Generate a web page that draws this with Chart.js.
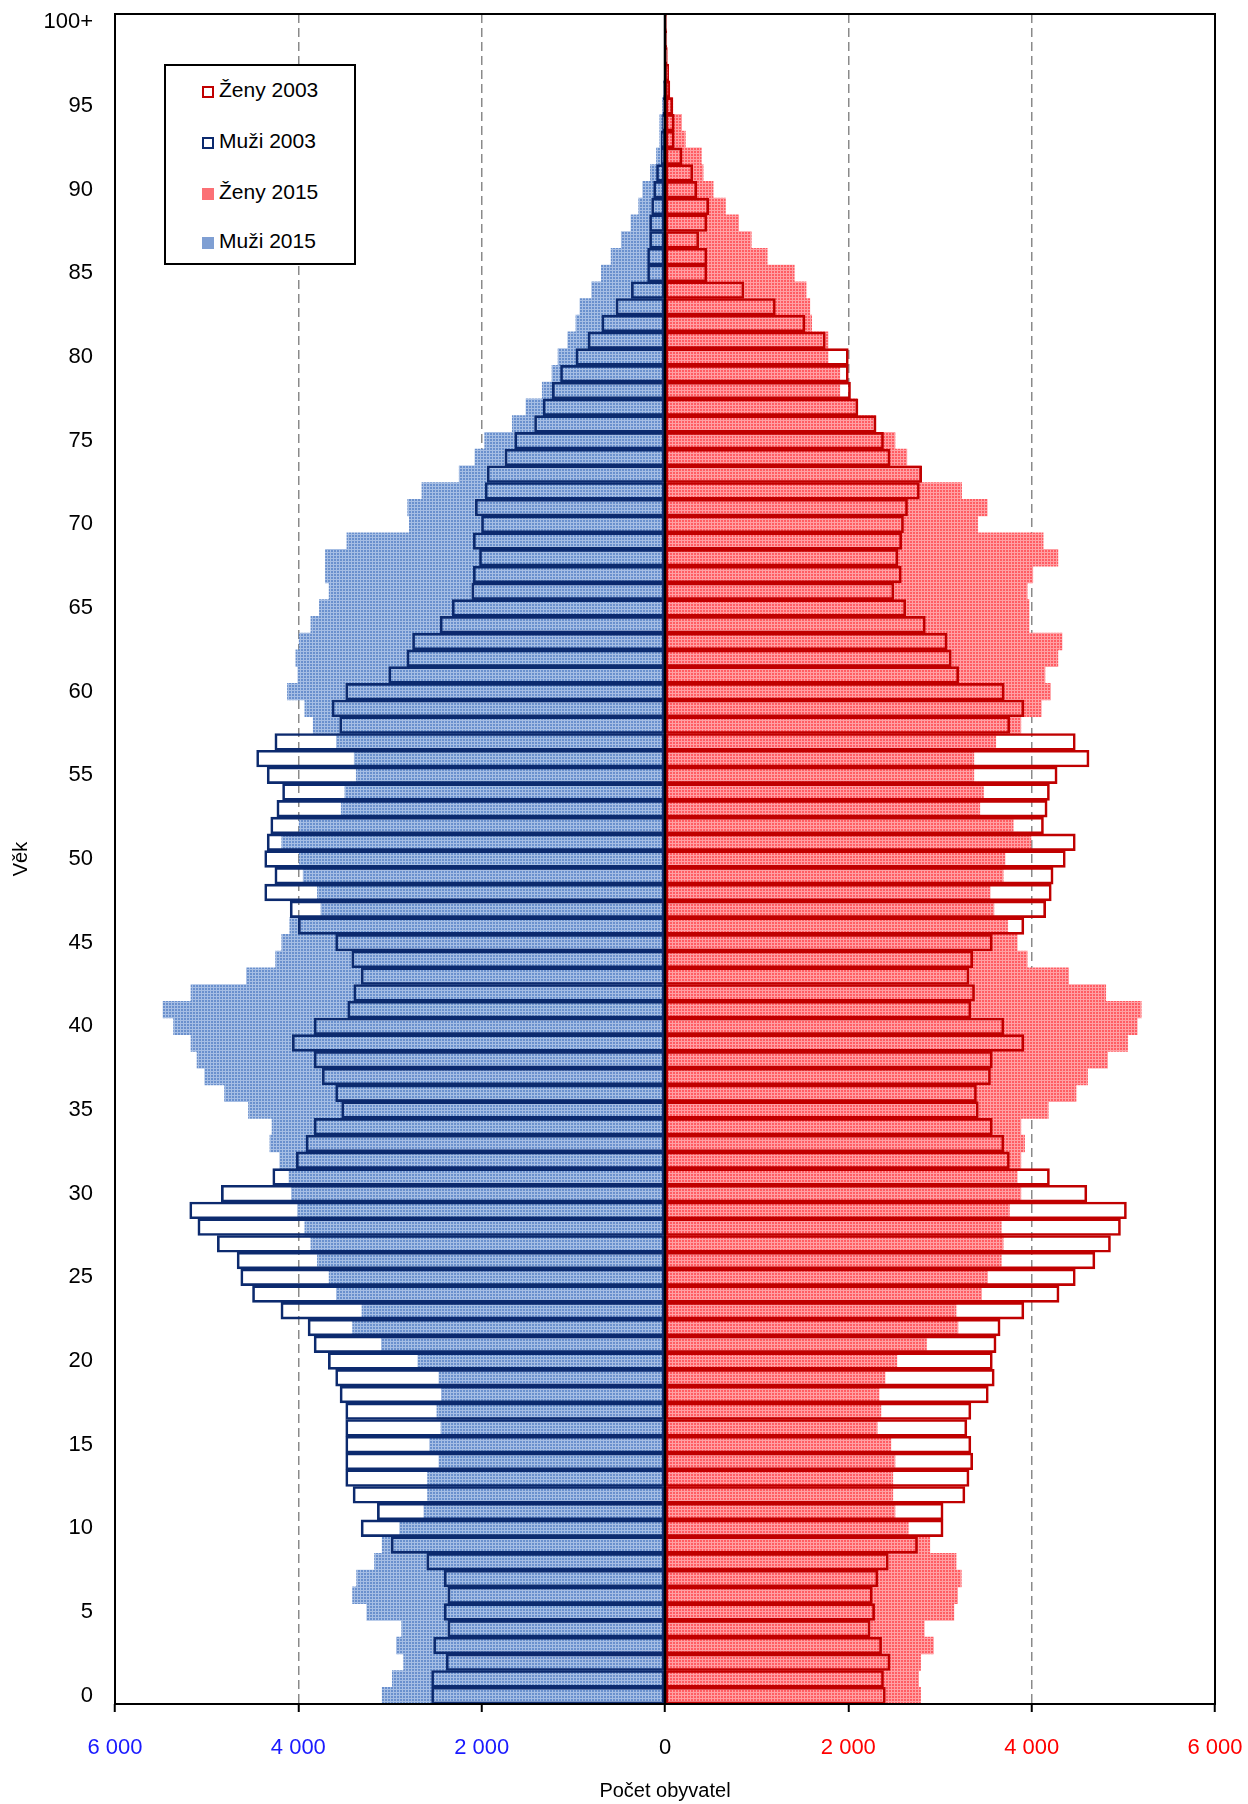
<!DOCTYPE html>
<html>
<head>
<meta charset="utf-8">
<script src="https://cdn.jsdelivr.net/npm/chart.js@4.4.1/dist/chart.umd.min.js"></script>
<style>
  body { margin: 0; background: #fff; }
  #wrap { position: relative; width: 1248px; height: 1804px; }
  #legend {
    position: absolute; left: 164px; top: 64px; width: 188px; height: 197px;
    border: 2px solid #000; background: #fff;
    font-family: "Liberation Sans", Arial, sans-serif; font-size: 21px; color: #000;
  }
  .item { position: absolute; left: 36px; height: 24px; line-height: 24px; white-space: nowrap; }
  .mark { display: inline-block; width: 12px; height: 12px; box-sizing: border-box; margin-right: 5px; vertical-align: -1px; }
</style>
</head>
<body>
<div id="wrap">
  <canvas id="pyramid"></canvas>
  <div id="legend">
    <div class="item" style="top:12px"><span class="mark" style="border:2px solid #c00000"></span>Ženy 2003</div>
    <div class="item" style="top:63px"><span class="mark" style="border:2px solid #0c2a6e"></span>Muži 2003</div>
    <div class="item" style="top:114px"><span class="mark" style="background:#fb7075"></span>Ženy 2015</div>
    <div class="item" style="top:163px"><span class="mark" style="background:#7f9fd3"></span>Muži 2015</div>
  </div>
</div>
<script>
// Ages 0..100 (100 = 100+)
let ages = [];
for (let i = 0; i <= 100; i++) ages.push(i === 100 ? '100+' : String(i));

// Men 2015 (index = age)
let men2015 = [3085,2975,2851,2930,2873,3253,3408,3364,3169,3085,
  2895,2630,2590,2590,2466,2568,2444,2488,2440,2466,
  2696,3094,3408,3306,3585,3664,3792,3863,3929,4009,
  4075,4102,4203,4310,4287,4544,4805,5021,5105,5171,
  5361,5476,5171,4566,4248,4181,4093,3753,3792,3947,
  3991,4181,3991,3532,3492,3368,3390,3585,3837,3929,
  4119,4005,4027,3991,3863,3770,3664,3704,3704,3470,
  2789,2807,2652,2245,2073,1967,1666,1516,1339,1233,
  1167,1061,972,928,800,694,588,477,371,287,
  243,159,93,57,57,27,15,8,5,3,
  3];

// Men 2003
let men2003 = [2546,2546,2387,2524,2369,2409,2369,2409,2599,2988,
  3315,3138,3403,3483,3483,3483,3483,3483,3545,3593,
  3673,3828,3894,4190,4500,4628,4668,4884,5096,5185,
  4840,4279,4022,3916,3828,3527,3593,3739,3828,4066,
  3828,3461,3395,3315,3417,3593,4000,4089,4367,4256,
  4367,4340,4301,4234,4172,4340,4455,4256,3549,3633,
  3483,3014,2816,2754,2453,2321,2108,2091,2024,2091,
  2002,2069,1962,1940,1746,1640,1423,1330,1229,1140,
  972,840,690,535,367,190,190,168,168,146,
  124,93,40,40,27,20,15,8,5,3,
  2];

// Women 2015
let women2015 = [2788,2767,2788,2929,2828,3151,3192,3232,3175,2889,
  2654,2509,2485,2485,2509,2464,2315,2355,2335,2400,
  2529,2852,3196,3175,3454,3519,3668,3689,3668,3757,
  3882,3842,3882,3923,3882,4181,4484,4610,4828,5046,
  5151,5195,4808,4404,3951,3842,3737,3588,3547,3689,
  3709,3992,3798,3434,3474,3369,3369,3608,3882,4105,
  4206,4145,4286,4331,3971,3971,3951,4012,4286,4125,
  3410,3515,3236,2792,2638,2509,2295,2093,1907,1907,
  1778,1778,1600,1580,1539,1410,1115,941,804,659,
  525,416,396,222,182,85,45,30,20,15,
  15];

// Women 2003
let women2003 = [2404,2384,2456,2363,2238,2287,2262,2323,2436,2755,
  3034,3034,3272,3317,3357,3337,3293,3337,3527,3592,
  3571,3612,3656,3915,4299,4476,4690,4860,4969,5034,
  4602,4194,3757,3697,3571,3418,3398,3551,3571,3915,
  3697,3337,3377,3317,3357,3571,3915,4153,4214,4234,
  4367,4476,4129,4169,4194,4278,4626,4476,3761,3915,
  3701,3204,3123,3078,2840,2626,2497,2578,2541,2582,
  2602,2646,2775,2800,2456,2384,2303,2105,2024,2000,
  2000,1749,1527,1204,861,457,457,368,457,477,
  347,303,186,101,101,85,53,40,25,20,
  15];

// x axis ticks
let xMin = -6000, xMax = 6000, xStep = 2000;

let canvas = document.getElementById('pyramid');
let ctx = canvas.getContext('2d');

// small grid texture like the Excel fill
function makePattern(base, light) {
    let c = document.createElement('canvas');
    c.width = 3; c.height = 3;
    let g = c.getContext('2d');
    g.fillStyle = base;
    g.fillRect(0, 0, 3, 3);
    g.fillStyle = light;
    g.fillRect(0, 0, 3, 1);
    g.fillRect(0, 0, 1, 3);
    return ctx.createPattern(c, 'repeat');
}
let bluePattern = makePattern('#6a90cd', '#a6bee4');
let redPattern = makePattern('#ff5c63', '#ffa0a4');

function fmt(v) {
    return Math.abs(v).toLocaleString('en-US').replace(/,/g, '\u00a0');
}

// frame around plot and the black zero line on top of bars
const framePlugin = {
    id: 'frame',
    afterDatasetsDraw(chart) {
        let a = chart.chartArea;
        let x0 = chart.scales.x.getPixelForValue(0);
        let c = chart.ctx;
        c.save();
        c.strokeStyle = '#000';
        c.lineWidth = 2.5;
        c.beginPath();
        c.moveTo(x0, a.top);
        c.lineTo(x0, a.bottom);
        c.stroke();
        c.lineWidth = 2;
        c.strokeRect(a.left, a.top, a.right - a.left, a.bottom - a.top);
        c.restore();
    }
};

const font = '"Liberation Sans", Arial, sans-serif';

new Chart(ctx, {
    type: 'bar',
    data: {
        labels: ages,
        datasets: [
            {
                label: 'Muži 2015',
                data: men2015.map(v => -v),
                backgroundColor: bluePattern,
                borderWidth: 0,
                grouped: false,
                order: 2
            },
            {
                label: 'Ženy 2015',
                data: women2015,
                backgroundColor: redPattern,
                borderWidth: 0,
                grouped: false,
                order: 2
            },
            {
                label: 'Muži 2003',
                data: men2003.map(v => -v),
                backgroundColor: 'rgba(0,0,0,0)',
                borderColor: '#0c2a6e',
                borderWidth: 2,
                borderSkipped: false,
                grouped: false,
                order: 1
            },
            {
                label: 'Ženy 2003',
                data: women2003,
                backgroundColor: 'rgba(0,0,0,0)',
                borderColor: '#c00000',
                borderWidth: 2,
                borderSkipped: false,
                grouped: false,
                order: 1
            }
        ]
    },
    options: {
        indexAxis: 'y',
        responsive: true,
        maintainAspectRatio: false,
        animation: false,
        datasets: { bar: { barPercentage: 1, categoryPercentage: 1 } },
        layout: { padding: { top: 14, right: 33, left: 0, bottom: 0 } },
        plugins: {
            legend: { display: false },
            tooltip: { enabled: false }
        },
        scales: {
            x: {
                type: 'linear',
                min: xMin,
                max: xMax,
                afterBuildTicks(scale) {
                    let t = [];
                    for (let v = xMin; v <= xMax; v += xStep) t.push({ value: v });
                    scale.ticks = t;
                },
                afterFit(scale) {
                    scale.height = 100;
                    scale.paddingLeft = 0;
                    scale.paddingRight = 0;
                },
                ticks: {
                    callback: v => fmt(v),
                    color: c => c.tick.value < 0 ? '#1a1aff' : (c.tick.value > 0 ? '#ff0000' : '#000'),
                    font: { family: font, size: 22 },
                    padding: 23,
                    maxRotation: 0
                },
                grid: {
                    color: c => (Math.abs(c.tick.value) === 2000 || Math.abs(c.tick.value) === 4000) ? '#8a8a8a' : 'rgba(0,0,0,0)',
                    lineWidth: 1.5,
                    drawTicks: true,
                    tickLength: 8,
                    tickColor: '#000',
                    tickWidth: 2,
                    tickBorderDash: []
                },
                border: { display: false, dash: [9, 5] },
                title: {
                    display: true,
                    text: 'Počet obyvatel',
                    color: '#000',
                    font: { family: font, size: 20 },
                    padding: { top: 0, bottom: 1 }
                }
            },
            y: {
                type: 'category',
                reverse: true,
                afterFit(scale) {
                    scale.width = 115;
                    scale.paddingTop = 0;
                    scale.paddingBottom = 0;
                },
                ticks: {
                    autoSkip: false,
                    callback: (v, i) => i % 5 === 0 ? ages[i] : '',
                    color: '#000',
                    font: { family: font, size: 22 },
                    padding: 22
                },
                grid: { display: false, drawTicks: false },
                border: { display: false },
                title: {
                    display: true,
                    text: 'Věk',
                    color: '#000',
                    font: { family: font, size: 20 },
                    padding: { top: 9, bottom: 0 }
                }
            }
        }
    },
    plugins: [framePlugin]
});
</script>
</body>
</html>
